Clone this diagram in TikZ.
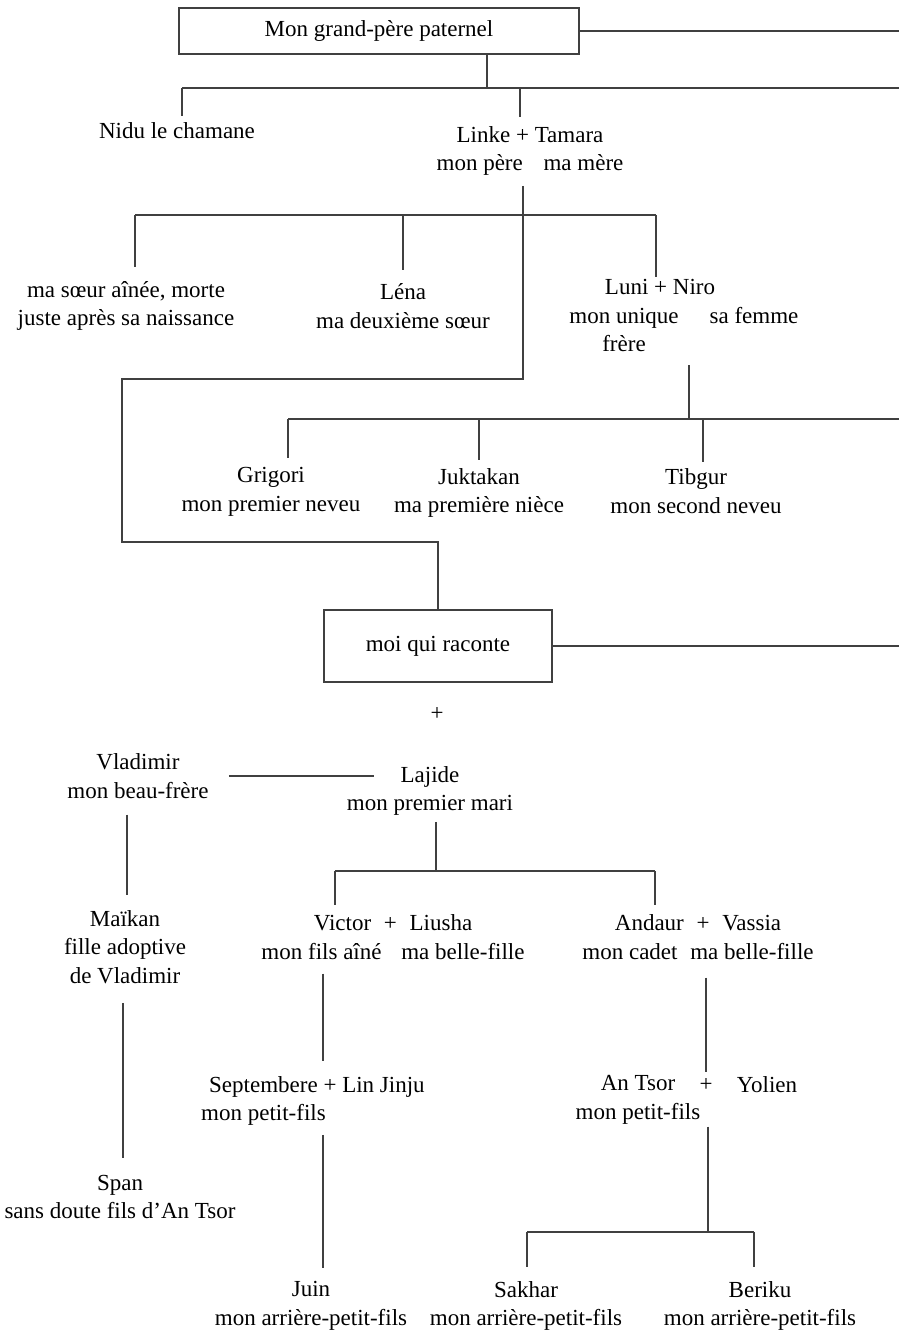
\documentclass[tikz,border=0pt]{standalone}
\usepackage{fontspec}
\setmainfont{Liberation Serif}
\usetikzlibrary{positioning}
\definecolor{traitgris}{rgb}{0.25,0.25,0.25}

\begin{document}
\begin{tikzpicture}[x=1pt,y=-1pt,
        font=\fontsize{23}{28.5}\selectfont,
        perso/.style={align=center,inner sep=2pt},
        boite/.style={draw=traitgris,line width=1.2pt,inner sep=0pt},
        lien/.style={draw=traitgris,line width=1.2pt}
    ]
        \useasboundingbox (0,0) rectangle (899,1332);
        % People
        \node[boite,minimum width=400pt,minimum height=46pt] (grandpere) at (379,31) {Mon grand-père paternel};
        \node[perso] (nidu) at (177,131) {Nidu le chamane};
        \node[perso] (linke) at (530,151) {Linke + Tamara\\mon père\hspace{15pt} ma mère};
        \node[perso] (soeur) at (126,306) {ma sœur aînée, morte\\juste après sa naissance};
        \node[perso] (lena) at (403,306) {Léna\\ma deuxième sœur};
        \node[perso] (luni) at (660,287) {Luni + Niro};
        \node[perso] (frere) at (624,330) {mon unique\\frère};
        \node[perso] (niro) at (754,316) {sa femme};
        \node[perso] (grigori) at (271,492) {Grigori\\mon premier neveu};
        \node[perso] (juktakan) at (479,493) {Juktakan\\ma première nièce};
        \node[perso] (tibgur) at (696,491) {Tibgur\\mon second neveu};
        \node[boite,minimum width=228pt,minimum height=72pt] (moi) at (438,646) {moi qui raconte};
        \node[inner sep=2pt] (plus) at (437,714) {+};
        \node[perso] (vladimir) at (138,776) {Vladimir\\mon beau-frère};
        \node[perso] (lajide) at (430,791) {Lajide\\mon premier mari};
        \node[perso] (maikan) at (125,947) {Maïkan\\fille adoptive\\de Vladimir};
        \node[perso] (victor) at (393,937) {Victor\hspace{7pt} + \hspace{7pt}Liusha\\mon fils aîné\hspace{14pt} ma belle-fille};
        \node[perso] (andaur) at (698,937) {Andaur\hspace{7pt} + \hspace{7pt}Vassia\\mon cadet\hspace{7pt} ma belle-fille};
        \node[perso,align=left,anchor=west] (septembere) at (199,1101) {\hspace*{8pt}Septembere + Lin Jinju\\mon petit-fils};
        \node[perso] (antsor) at (638,1100) {An Tsor\\mon petit-fils};
        \node[inner sep=2pt] (plusb) at (706,1085) {+};
        \node[inner sep=2pt] (yolien) at (767,1085) {Yolien};
        \node[perso] (span) at (120,1197) {Span\\sans doute fils d’An Tsor};
        \node[perso] (juin) at (311,1306) {Juin\\mon arrière-petit-fils};
        \node[perso] (sakhar) at (526,1306) {Sakhar\\mon arrière-petit-fils};
        \node[perso] (beriku) at (760,1306) {Beriku\\mon arrière-petit-fils};

        % Junctions
        \coordinate (droite) at (899,0);
        \coordinate (j1) at (487,88);
        \coordinate (xnidu) at (182,0);
        \coordinate (xlinke) at (520,0);
        \coordinate (j2) at (523,379);
        \coordinate (j3) at (122,542);
        \coordinate (j4) at (656,215);
        \coordinate (xsoeur) at (135,0);
        \coordinate (j5) at (689,419);
        \coordinate (xgrigori) at (288,0);
        \coordinate (xtibgur) at (703,0);
        \coordinate (xlajide) at (374,0);
        \coordinate (xvlad) at (127,0);
        \coordinate (xmaikan) at (123,0);
        \coordinate (j6) at (436,871);
        \coordinate (xvictor) at (335,0);
        \coordinate (xandaur) at (655,0);
        \coordinate (xfils) at (323,0);
        \coordinate (j7) at (708,1232);
        \coordinate (xsakhar) at (527,0);
        \coordinate (xberiku) at (754,0);

        % Lines
        \draw[lien] (grandpere.east) -- (grandpere.east -| droite);
        \draw[lien] (grandpere.south -| j1) -- (j1);
        \draw[lien] (xnidu |- j1) -- (droite |- j1);
        \draw[lien,shorten >=5pt] (xnidu |- j1) -- (xnidu |- nidu.north);
        \draw[lien,shorten >=7pt] (xlinke |- j1) -- (xlinke |- linke.north);
        \draw[lien,shorten <=8pt] (j2 |- linke.south) -- (j2) -| (j3) -| (moi.north);
        \draw[lien] (xsoeur |- j4) -- (j4);
        \draw[lien,shorten >=12pt] (xsoeur |- j4) -- (xsoeur |- soeur.north);
        \draw[lien,shorten >=11pt] (lena.north |- j4) -- (lena.north);
        \draw[lien] (j4) -- (j4 |- luni.north);
        \draw[lien,shorten <=11pt] (j5 |- frere.south) -- (j5);
        \draw[lien] (xgrigori |- j5) -- (droite |- j5);
        \draw[lien,shorten >=7pt] (xgrigori |- j5) -- (xgrigori |- grigori.north);
        \draw[lien,shorten >=6pt] (juktakan.north |- j5) -- (juktakan.north);
        \draw[lien,shorten >=4pt] (xtibgur |- j5) -- (xtibgur |- tibgur.north);
        \draw[lien] (moi.east) -- (moi.east -| droite);
        \draw[lien,shorten <=18pt] (vladimir.east) -- (vladimir.east -| xlajide);
        \draw[lien,shorten <=14pt,shorten >=13pt] (xvlad |- vladimir.south) -- (xvlad |- maikan.north);
        \draw[lien,shorten <=17pt,shorten >=15pt] (xmaikan |- maikan.south) -- (xmaikan |- span.north);
        \draw[lien,shorten <=4pt] (j6 |- lajide.south) -- (j6);
        \draw[lien] (xvictor |- j6) -- (xandaur |- j6);
        \draw[lien,shorten >=7pt] (xvictor |- j6) -- (xvictor |- victor.north);
        \draw[lien,shorten >=7pt] (xandaur |- j6) -- (xandaur |- andaur.north);
        \draw[lien,shorten <=12pt,shorten >=13pt] (xfils |- victor.south) -- (xfils |- septembere.north);
        \draw[lien,shorten <=7pt,shorten >=12pt] (xfils |- septembere.south) -- (xfils |- juin.north);
        \draw[lien,shorten <=16pt,shorten >=4pt] (plusb |- andaur.south) -- (plusb.north);
        \draw[lien] (j7 |- antsor.south) -- (j7);
        \draw[lien] (xsakhar |- j7) -- (xberiku |- j7);
        \draw[lien,shorten >=12pt] (xsakhar |- j7) -- (xsakhar |- sakhar.north);
        \draw[lien,shorten >=12pt] (xberiku |- j7) -- (xberiku |- beriku.north);
    \end{tikzpicture}
\end{document}
